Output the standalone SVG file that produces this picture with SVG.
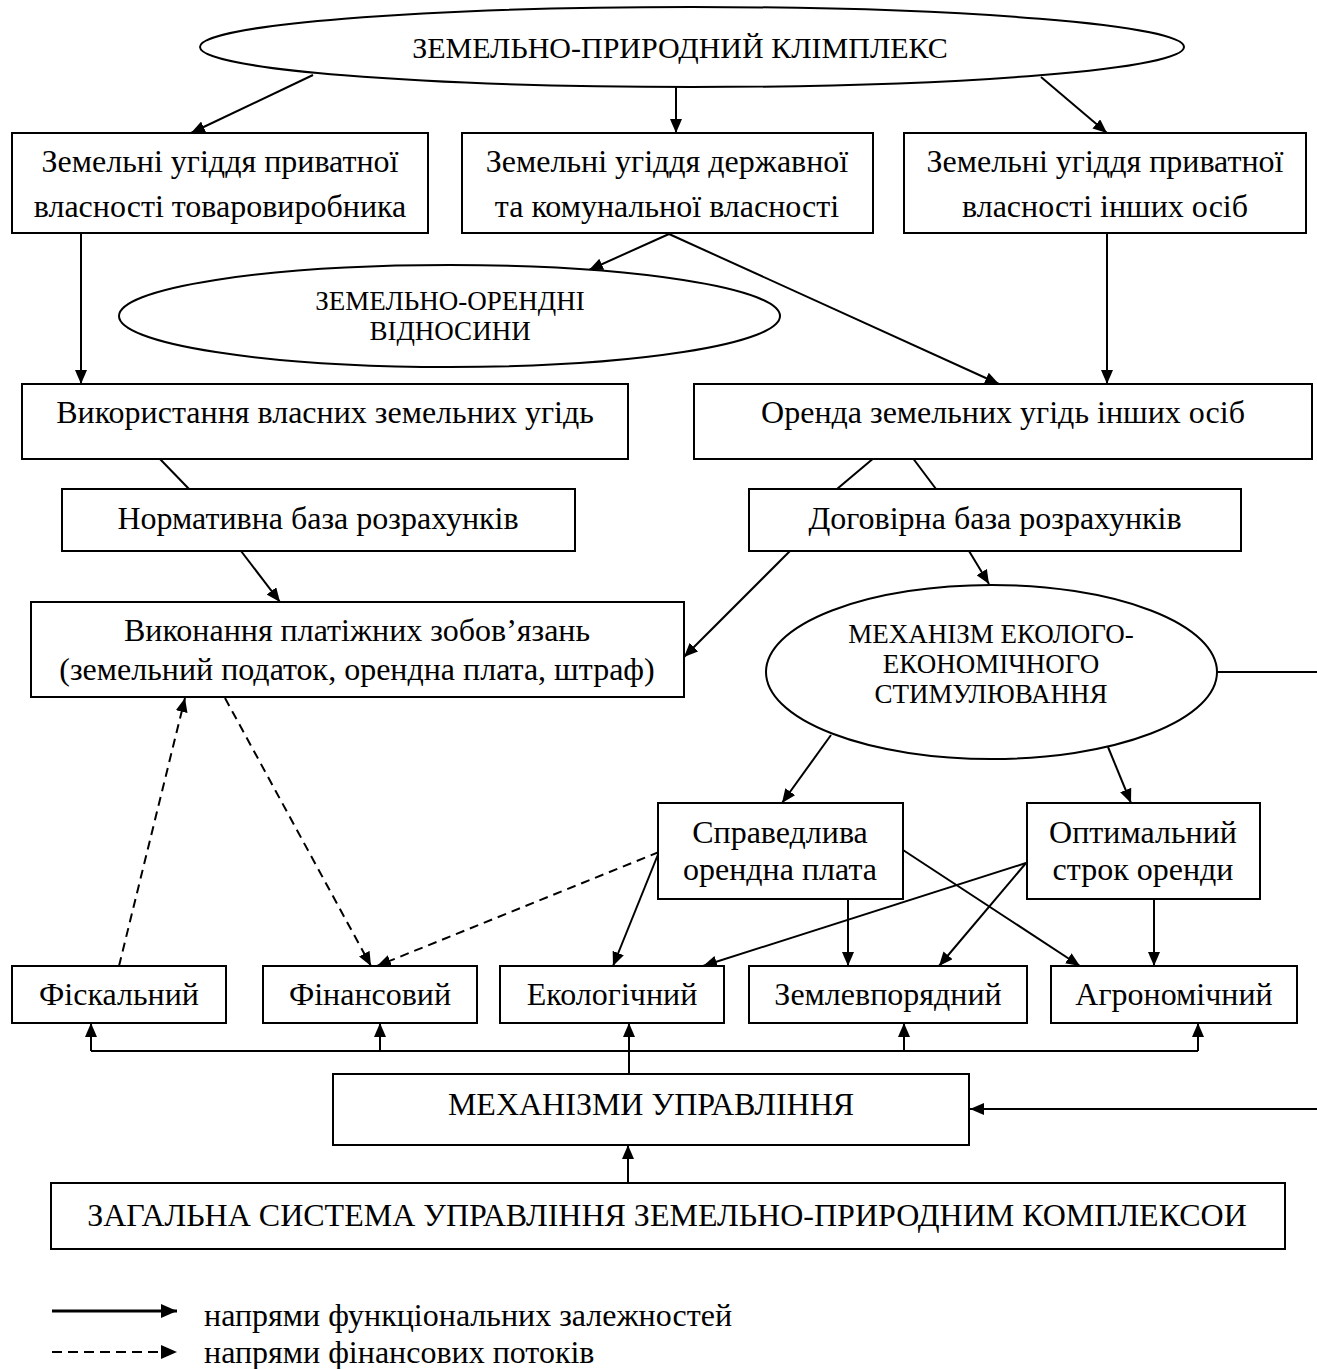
<svg xmlns="http://www.w3.org/2000/svg" width="1317" height="1369" viewBox="0 0 1317 1369">
  <style>
    .box { fill: #ffffff; stroke: #000000; stroke-width: 2; }
    .ell { fill: #ffffff; stroke: #000000; stroke-width: 2; }
    .t { font-family: "Liberation Serif", "Times New Roman", serif; font-size: 32px; fill: #000000; text-anchor: middle; }
    .th { font-family: "Liberation Serif", "Times New Roman", serif; font-size: 30px; fill: #000000; text-anchor: middle; }
    .tc { font-family: "Liberation Serif", "Times New Roman", serif; font-size: 27px; fill: #000000; text-anchor: middle; }
    .tl { font-family: "Liberation Serif", "Times New Roman", serif; font-size: 32px; fill: #000000; }
    .ln { fill: none; stroke: #000000; stroke-width: 2; }
    .arr { fill: none; stroke: #000000; stroke-width: 2; marker-end: url(#ah); }
    .dash { fill: none; stroke: #000000; stroke-width: 2; stroke-dasharray: 9 6; marker-end: url(#ah); }
  </style>
  <defs>
    <marker id="ah" viewBox="0 0 14 12" refX="14" refY="6" markerWidth="14" markerHeight="12" markerUnits="userSpaceOnUse" orient="auto">
      <path d="M0,0 L14,6 L0,12 z" fill="#000000"/>
    </marker>
    <marker id="ahl" viewBox="0 0 16 14" refX="16" refY="7" markerWidth="16" markerHeight="14" markerUnits="userSpaceOnUse" orient="auto">
      <path d="M0,0 L16,7 L0,14 z" fill="#000000"/>
    </marker>
  </defs>
  <rect x="0" y="0" width="1317" height="1369" fill="#ffffff"/>

  <!-- connectors -->
  <g id="connectors">
    <line class="arr" x1="313" y1="75" x2="191" y2="133"/>
    <line class="arr" x1="676" y1="87" x2="676" y2="133"/>
    <line class="arr" x1="1041" y1="77" x2="1107" y2="133"/>
    <line class="arr" x1="81" y1="233" x2="81" y2="384"/>
    <line class="arr" x1="1107" y1="233" x2="1107" y2="384"/>
    <line class="arr" x1="669" y1="234" x2="589" y2="270"/>
    <line class="arr" x1="669" y1="234" x2="999" y2="384"/>
    <line class="ln" x1="160" y1="459" x2="189" y2="489"/>
    <line class="ln" x1="875" y1="457" x2="837" y2="489"/>
    <line class="ln" x1="912" y1="457" x2="936" y2="489"/>
    <line class="arr" x1="241" y1="551" x2="280" y2="602"/>
    <line class="arr" x1="790" y1="551" x2="684" y2="657"/>
    <line class="arr" x1="969" y1="551" x2="989" y2="584"/>
    <line class="arr" x1="831" y1="735" x2="782" y2="803"/>
    <line class="arr" x1="1108" y1="747" x2="1131" y2="803"/>
    <line class="arr" x1="659" y1="852" x2="613" y2="966"/>
    <line class="dash" x1="659" y1="852" x2="377" y2="966"/>
    <line class="arr" x1="848" y1="899" x2="848" y2="966"/>
    <line class="arr" x1="903" y1="850" x2="1080" y2="966"/>
    <line class="arr" x1="1026" y1="863" x2="703" y2="966"/>
    <line class="arr" x1="1026" y1="863" x2="939" y2="966"/>
    <line class="arr" x1="1154" y1="899" x2="1154" y2="966"/>
    <line class="dash" x1="119" y1="966" x2="185" y2="698"/>
    <line class="dash" x1="225" y1="698" x2="371" y2="966"/>
    <!-- distribution bus under the function boxes -->
    <line class="ln" x1="91" y1="1051" x2="1198" y2="1051"/>
    <line class="arr" x1="91" y1="1051" x2="91" y2="1023"/>
    <line class="arr" x1="380" y1="1051" x2="380" y2="1023"/>
    <line class="arr" x1="629" y1="1074" x2="629" y2="1023"/>
    <line class="arr" x1="904" y1="1051" x2="904" y2="1023"/>
    <line class="arr" x1="1198" y1="1051" x2="1198" y2="1023"/>
    <line class="arr" x1="628" y1="1183" x2="628" y2="1145"/>
    <path class="arr" d="M1217,672 H1319 V1109 H970"/>
  </g>

  <g id="n-complex">
    <ellipse class="ell" cx="692" cy="47" rx="492" ry="40"/>
    <text class="th" x="680" y="58">ЗЕМЕЛЬНО-ПРИРОДНИЙ КЛІМПЛЕКС</text>
  </g>
  <g id="n-private-own">
    <rect class="box" x="12" y="133" width="416" height="100"/>
    <text class="t" x="220" y="172">Земельні угіддя приватної</text>
    <text class="t" x="220" y="217">власності товаровиробника</text>
  </g>
  <g id="n-state">
    <rect class="box" x="462" y="133" width="411" height="100"/>
    <text class="t" x="667" y="172">Земельні угіддя державної</text>
    <text class="t" x="667" y="217">та комунальної власності</text>
  </g>
  <g id="n-private-other">
    <rect class="box" x="904" y="133" width="402" height="100"/>
    <text class="t" x="1105" y="172">Земельні угіддя приватної</text>
    <text class="t" x="1105" y="217">власності інших осіб</text>
  </g>
  <g id="n-lease-relations">
    <ellipse class="ell" cx="449.5" cy="316" rx="330.5" ry="51"/>
    <text class="tc" x="450" y="310">ЗЕМЕЛЬНО-ОРЕНДНІ</text>
    <text class="tc" x="450" y="340">ВІДНОСИНИ</text>
  </g>
  <g id="n-own-use">
    <rect class="box" x="22" y="384" width="606" height="75"/>
    <text class="t" x="325" y="423">Використання власних земельних угідь</text>
  </g>
  <g id="n-lease">
    <rect class="box" x="694" y="384" width="618" height="75"/>
    <text class="t" x="1003" y="423">Оренда земельних угідь інших осіб</text>
  </g>
  <g id="n-normative">
    <rect class="box" x="62" y="489" width="513" height="62"/>
    <text class="t" x="318" y="529">Нормативна база розрахунків</text>
  </g>
  <g id="n-contract">
    <rect class="box" x="749" y="489" width="492" height="62"/>
    <text class="t" x="995" y="529">Договірна база розрахунків</text>
  </g>
  <g id="n-payments">
    <rect class="box" x="31" y="602" width="653" height="95"/>
    <text class="t" x="357" y="641">Виконання платіжних зобов’язань</text>
    <text class="t" x="357" y="680">(земельний податок, орендна плата, штраф)</text>
  </g>
  <g id="n-eco-mechanism">
    <ellipse class="ell" cx="991.5" cy="672" rx="225.5" ry="87"/>
    <text class="tc" x="991" y="643">МЕХАНІЗМ ЕКОЛОГО-</text>
    <text class="tc" x="991" y="673">ЕКОНОМІЧНОГО</text>
    <text class="tc" x="991" y="703">СТИМУЛЮВАННЯ</text>
  </g>
  <g id="n-fair-rent">
    <rect class="box" x="658" y="803" width="245" height="96"/>
    <text class="t" x="780" y="843">Справедлива</text>
    <text class="t" x="780" y="880">орендна плата</text>
  </g>
  <g id="n-optimal-term">
    <rect class="box" x="1027" y="803" width="233" height="96"/>
    <text class="t" x="1143" y="843">Оптимальний</text>
    <text class="t" x="1143" y="880">строк оренди</text>
  </g>
  <g id="n-fiscal">
    <rect class="box" x="12" y="966" width="214" height="57"/>
    <text class="t" x="119" y="1005">Фіскальний</text>
  </g>
  <g id="n-financial">
    <rect class="box" x="263" y="966" width="214" height="57"/>
    <text class="t" x="370" y="1005">Фінансовий</text>
  </g>
  <g id="n-ecological">
    <rect class="box" x="500" y="966" width="224" height="57"/>
    <text class="t" x="612" y="1005">Екологічний</text>
  </g>
  <g id="n-land-mgmt">
    <rect class="box" x="749" y="966" width="278" height="57"/>
    <text class="t" x="888" y="1005">Землевпорядний</text>
  </g>
  <g id="n-agronomic">
    <rect class="box" x="1051" y="966" width="246" height="57"/>
    <text class="t" x="1174" y="1005">Агрономічний</text>
  </g>
  <g id="n-mechanisms">
    <rect class="box" x="333" y="1074" width="636" height="71"/>
    <text class="t" x="651" y="1115">МЕХАНІЗМИ УПРАВЛІННЯ</text>
  </g>
  <g id="n-general">
    <rect class="box" x="51" y="1183" width="1234" height="66"/>
    <text class="t" x="667" y="1226">ЗАГАЛЬНА СИСТЕМА УПРАВЛІННЯ ЗЕМЕЛЬНО-ПРИРОДНИМ КОМПЛЕКСОИ</text>
  </g>

  <g id="legend">
    <line x1="52" y1="1311" x2="177" y2="1311" stroke="#000000" stroke-width="3" marker-end="url(#ahl)"/>
    <text class="tl" x="204" y="1326">напрями функціональних залежностей</text>
    <line x1="52" y1="1352" x2="177" y2="1352" stroke="#000000" stroke-width="2" stroke-dasharray="10 6" marker-end="url(#ahl)"/>
    <text class="tl" x="204" y="1363">напрями фінансових потоків</text>
  </g>
</svg>
